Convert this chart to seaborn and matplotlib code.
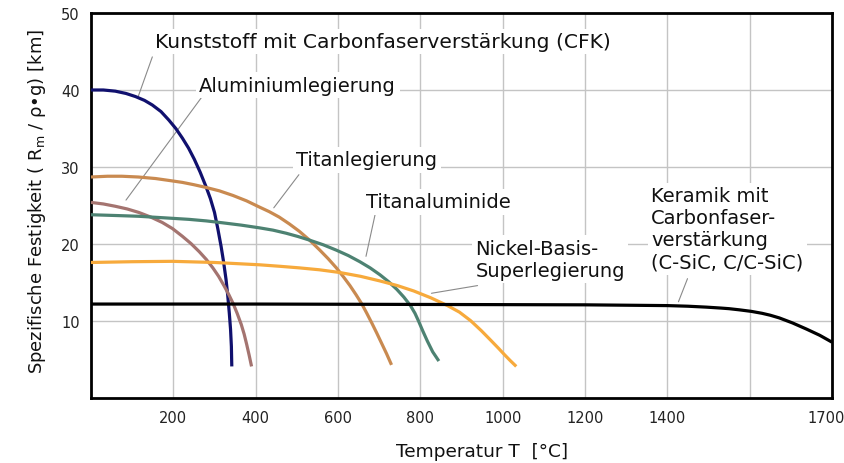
import numpy as np
import pandas as pd
import matplotlib
matplotlib.use("Agg")
import matplotlib.pyplot as plt
import matplotlib.transforms as mtransforms
import seaborn as sns

# ---------------- data ----------------
materials = ["CFK", "Aluminium", "Titan", "Titanaluminid", "Nickel", "Keramik"]

cfk_T = [0, 30, 59, 85, 108, 130, 149, 170, 189, 206, 222, 237, 251, 265, 279,
         290, 300, 308, 316, 322, 328, 332, 336, 339, 341, 342]
cfk_S = [40.0, 40.0, 39.85, 39.55, 39.15, 38.65, 38.05, 37.2, 36.1, 35.0, 33.75,
         32.45, 31.0, 29.35, 27.5, 25.9, 24.1, 22.0, 19.7, 17.7, 15.4, 13.4, 11.0,
         8.9, 6.7, 4.1]

al_T = [0, 30, 59, 88, 116, 145, 173, 198, 222, 243, 263, 280, 296, 310, 324,
        335, 345, 355, 365, 372, 378, 384, 390]
al_S = [25.4, 25.2, 24.9, 24.55, 24.1, 23.5, 22.8, 22.0, 21.0, 20.05, 19.0, 18.0,
        16.9, 15.8, 14.5, 13.4, 12.3, 11.0, 9.55, 8.3, 7.0, 5.6, 4.1]

ti_T = [0, 40, 75, 115, 157, 190, 222, 250, 279, 312, 345, 378, 409, 433, 457,
        482, 506, 531, 555, 576, 596, 613, 629, 644, 658, 670, 682, 694, 706, 718, 730]
ti_S = [28.7, 28.8, 28.8, 28.7, 28.5, 28.25, 28.0, 27.7, 27.35, 26.9, 26.3, 25.6,
        24.8, 24.2, 23.5, 22.6, 21.65, 20.5, 19.25, 18.1, 16.9, 15.75, 14.6, 13.4,
        12.2, 11.0, 9.75, 8.45, 7.1, 5.75, 4.3]

ta_T = [0, 60, 116, 178, 238, 280, 320, 365, 409, 442, 474, 503, 531, 564, 596,
        625, 653, 678, 702, 723, 743, 760, 776, 787, 796, 806, 817, 830, 845]
ta_S = [23.8, 23.7, 23.6, 23.4, 23.2, 23.0, 22.75, 22.45, 22.1, 21.8, 21.4, 20.97,
        20.5, 19.9, 19.2, 18.5, 17.7, 16.9, 16.0, 15.1, 14.1, 13.1, 12.0, 11.0,
        9.95, 8.7, 7.4, 6.0, 4.8]

ni_T = [0, 100, 198, 300, 409, 460, 506, 555, 604, 655, 702, 744, 784, 826, 866,
        895, 922, 948, 971, 990, 1004, 1018, 1033]
ni_S = [17.6, 17.7, 17.75, 17.6, 17.3, 17.1, 16.9, 16.65, 16.3, 15.8, 15.2, 14.6,
        13.9, 13.0, 12.0, 11.15, 10.05, 8.75, 7.5, 6.45, 5.65, 4.88, 4.1]

ce_T = [0, 400, 800, 1200, 1400, 1450, 1495, 1530, 1550, 1575, 1602, 1615, 1625,
        1636, 1652, 1669, 1685, 1700]
ce_S = [12.2, 12.2, 12.15, 12.1, 12.0, 11.92, 11.8, 11.68, 11.6, 11.45, 11.25,
        11.0, 10.75, 10.4, 9.75, 8.95, 8.15, 7.25]

colors = ["#10106e", "#a47470", "#c98a50", "#4d8272", "#f7aa3c", "#000000"]

x_ticks = [200, 400, 600, 800, 1000, 1200, 1400, 1700]
x_ticklabels = ["200", "400", "600", "800", "1000", "1200", "1400", "1700"]
y_ticks = [10, 20, 30, 40, 50]
y_ticklabels = ["10", "20", "30", "40", "50"]

labels = [
    ("Kunststoff mit Carbonfaserverstärkung (CFK)", 156, 46.3, 14.6),
    ("Aluminiumlegierung", 263, 40.6, 14),
    ("Titanlegierung", 498, 30.95, 14),
    ("Titanaluminide", 668, 25.5, 14),
    ("Nickel-Basis-\nSuperlegierung", 934, 18.0, 14),
    ("Keramik mit\nCarbonfaser-\nverstärkung\n(C-SiC, C/C-SiC)", 1361, 22.0, 14),
]
leaders = [
    ((149, 44.3), (115, 39.2)),
    ((268, 39.0), (85, 25.7)),
    ((505, 29.0), (444, 24.7)),
    ((690, 23.8), (668, 18.4)),
    ((939, 14.6), (827, 13.6)),
    ((1449, 15.5), (1427, 12.5)),
]

# ---------------- build table ----------------
series = [cfk_T, al_T, ti_T, ta_T, ni_T, ce_T]
values = [cfk_S, al_S, ti_S, ta_S, ni_S, ce_S]
frames = []
for m, t, s in zip(materials, series, values):
    frames.append(pd.DataFrame({"T": t, "S": s, "Material": m}))
df = pd.concat(frames, ignore_index=True)

sns.set_theme(style="white")
plt.rcParams["font.family"] = ["DejaVu Sans"]
plt.rcParams["mathtext.fontset"] = "dejavusans"

fig = plt.figure(figsize=(8.45, 4.64), dpi=100)
ax = fig.add_axes([91 / 845, 1 - 399 / 464, (832 - 91) / 845, (399 - 14) / 464])

sns.lineplot(data=df, x="T", y="S", hue="Material", hue_order=materials,
             palette=colors, sort=False, estimator=None, legend=False,
             linewidth=2.3, ax=ax, zorder=3)
for ln in ax.get_lines():
    ln.set_solid_joinstyle("round")
    ln.set_solid_capstyle("butt")


def fwd(x):
    x = np.asarray(x, dtype=float)
    return np.where(x <= 1600, x, 1600 + 2.0 * (x - 1600))


def inv(x):
    x = np.asarray(x, dtype=float)
    return np.where(x <= 1600, x, 1600 + (x - 1600) / 2.0)


ax.set_xscale("function", functions=(fwd, inv))
ax.set_xlim(0, 1700)
ax.set_ylim(0, 50)

ax.set_xticks(x_ticks)
ax.set_xticklabels(x_ticklabels)
ax.set_xticks([1600], minor=True)
ax.set_yticks(y_ticks)
ax.set_yticklabels(y_ticklabels)
ax.tick_params(axis="both", which="both", length=0, labelsize=10.5, colors="#222222")
ax.tick_params(axis="x", pad=9)
ax.tick_params(axis="y", pad=8)
ax.set_xlabel("")
ax.set_ylabel("")

# last x tick label sits at the right edge: shift it a little to the left
last = ax.get_xticklabels()[-1]
last.set_transform(last.get_transform() +
                   mtransforms.ScaledTranslation(-0.06, 0, fig.dpi_scale_trans))

ax.grid(True, which="both", color="#c4c4c4", linewidth=1.0, zorder=0)
ax.set_axisbelow(True)
for sp in ax.spines.values():
    sp.set_visible(True)
    sp.set_color("black")
    sp.set_linewidth(2.0)

for (x0, y0), (x1, y1) in leaders:
    ax.plot([x0, x1], [y0, y1], color="#8a8a8a", linewidth=0.8, zorder=2)

for txt, x, y, fs in labels:
    ax.text(x, y, txt, ha="left", va="center", fontsize=fs, color="#111111",
            linespacing=1.2, zorder=4,
            bbox=dict(facecolor="white", edgecolor="none", pad=2.5))

fig.text(37 / 845, 1 - 201 / 464,
         r"Spezifische Festigkeit ( R$_\mathregular{m}$ / ρ•g) [km]",
         rotation=90, ha="center", va="center", fontsize=13, color="#111111")
fig.text(482 / 845, 1 - 452 / 464, "Temperatur T  [°C]",
         ha="center", va="center", fontsize=13.3, color="#111111")

fig.savefig("out.png", dpi=100)
